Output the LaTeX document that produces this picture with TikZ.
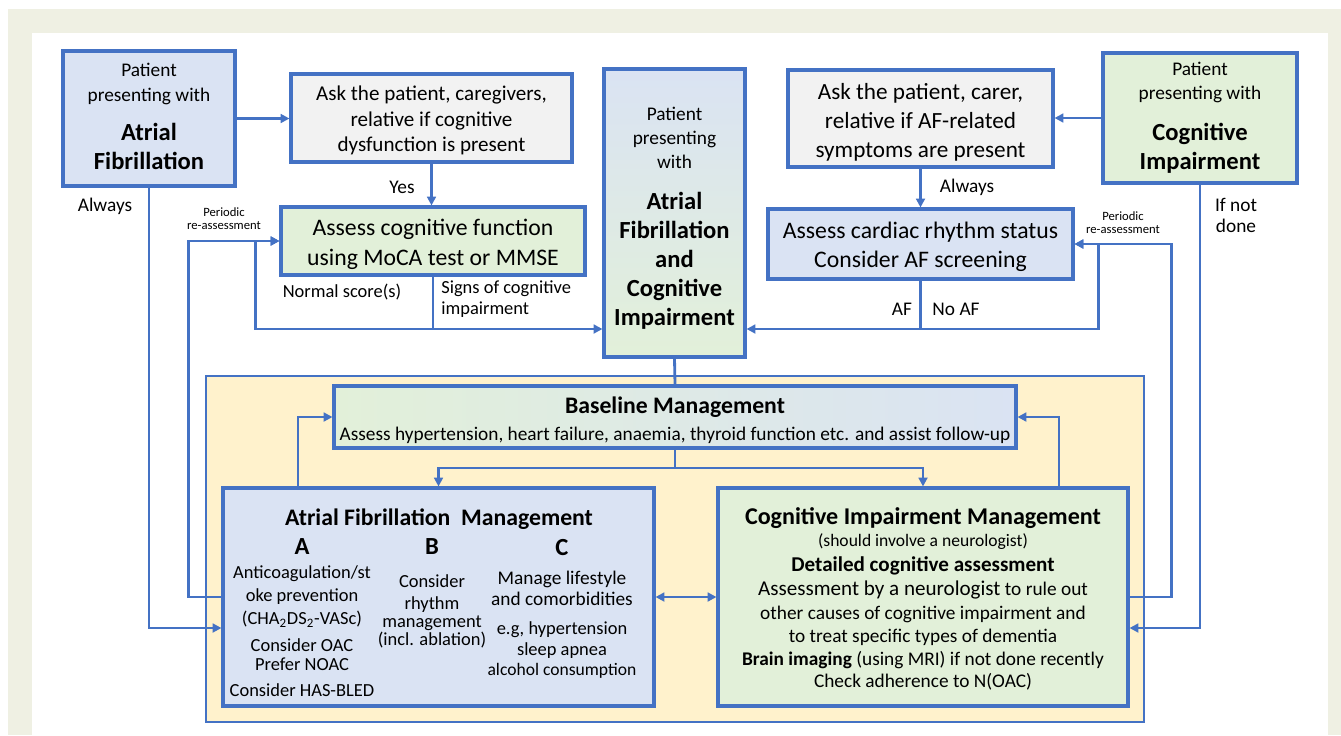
\documentclass[tikz,border=0pt]{standalone}
\usepackage{fontspec}
\setmainfont{Carlito}
\usepackage{xcolor}
\usepackage{tikz}
\usetikzlibrary{arrows.meta,positioning}

\definecolor{flowblue}{HTML}{4472C4}
\definecolor{afpale}{HTML}{DAE3F3}
\definecolor{cipale}{HTML}{E2F0D9}
\definecolor{askgray}{HTML}{F2F2F2}
\definecolor{mgmtyellow}{HTML}{FFF2CC}
\definecolor{pagebeige}{HTML}{EFF0E3}
\newcommand{\headfont}{\fontsize{14}{16.5}\selectfont\bfseries}

\begin{document}
\begin{tikzpicture}[x=0.02cm, y=-0.02cm, >={Triangle[length=5pt,width=5pt]},
    box/.style={rectangle, draw=flowblue, line width=1.8pt, align=center, inner sep=2pt},
    afbox/.style={box, fill=afpale},
    cibox/.style={box, fill=cipale},
    askbox/.style={box, fill=askgray},
    flow/.style={->, draw=flowblue, line width=1.6pt},
    link/.style={draw=flowblue, line width=1.6pt},
    lbl/.style={font=\fontsize{10.5}{12}\selectfont, inner sep=0pt},
    smalllbl/.style={font=\fontsize{7.2}{7.4}\selectfont, align=center, inner sep=0pt},
    coltext/.style={align=center, inner sep=0pt, anchor=north}]

    \fill[pagebeige] (8,9) rectangle (1341,735);
    \fill[white] (32,33) rectangle (1328,735);
    \useasboundingbox (0,0) rectangle (1341,735);
    \draw[flowblue, line width=0.6pt, fill=mgmtyellow] (206,376) rectangle (1144,722);

    \node[afbox, minimum width=3.44cm, minimum height=2.7cm, font=\fontsize{11}{13.7}\selectfont, text depth=2.5pt] (afpat) at (149,118.5)
        {Patient\\presenting with\\[8.5pt]{\headfont Atrial}\\[2.8pt]{\headfont Fibrillation}};
    \node[askbox, minimum width=5.62cm, minimum height=1.76cm, font=\fontsize{12}{14.5}\selectfont] (askcog) at (431.5,118)
        {\rule{0pt}{11.5pt}Ask the patient, caregivers,\\relative if cognitive\\dysfunction is present};
    \node[cibox, minimum width=6.08cm, minimum height=1.36cm, font=\fontsize{13.5}{17}\selectfont] (asscog) at (433,241)
        {\rule{0pt}{13pt}Assess cognitive function\\using MoCA test or MMSE};
    \node[box, top color=afpale, bottom color=cipale, minimum width=2.82cm, minimum height=5.76cm, font=\fontsize{11}{13.7}\selectfont] (center) at (674.5,213)
        {\rule{0pt}{13.5pt}Patient\\presenting\\with\\[10pt]{\headfont Atrial}\\[2.8pt]{\headfont Fibrillation}\\[2.8pt]{\headfont and}\\[2.8pt]{\headfont Cognitive}\\[2.8pt]{\headfont Impairment}};
    \node[askbox, minimum width=5.3cm, minimum height=1.94cm, font=\fontsize{13.2}{16.5}\selectfont] (askaf) at (920.5,118.5)
        {\rule{0pt}{13pt}Ask the patient, carer,\\relative if AF-related\\symptoms are present};
    \node[cibox, minimum width=3.88cm, minimum height=2.6cm, font=\fontsize{11}{13.7}\selectfont] (cipat) at (1200,118)
        {Patient\\presenting with\\[9.5pt]{\headfont Cognitive}\\[2.8pt]{\headfont Impairment}};
    \node[afbox, minimum width=6.1cm, minimum height=1.4cm, font=\fontsize{13.5}{17}\selectfont] (asscard) at (920.5,244)
        {\rule{0pt}{12.5pt}Assess cardiac rhythm status\\Consider AF screening};

    \node[box, left color=cipale, right color=afpale, minimum width=13.64cm, minimum height=1.24cm, font=\fontsize{11}{15.4}\selectfont] (baseline) at (675,417)
        {\rule{0pt}{13pt}{\fontsize{13.5}{15}\selectfont\bfseries Baseline Management}\\Assess hypertension, heart failure, anaemia, thyroid function etc. and assist follow-up};
    \node[afbox, minimum width=8.62cm, minimum height=4.36cm] (afmgmt) at (438.5,597) {};
    \node[font=\fontsize{13.5}{15}\selectfont\bfseries, inner sep=0pt] (afhead) at (439,519.5) {Atrial Fibrillation\ \ Management};
    \node[coltext, font=\fontsize{10.5}{12.7}\selectfont] (colA) at (302,538.5)
        {{\headfont A}\\[1pt]Anticoagulation/st\\oke prevention\\[0.5pt](CHA\textsubscript{2}DS\textsubscript{2}-VASc)\\[2.5pt]Consider OAC\\[-1.5pt]Prefer NOAC\\[2pt]Consider HAS-BLED};
    \node[coltext, font=\fontsize{10.5}{10.2}\selectfont] (colB) at (432,538.5)
        {{\headfont B}\\[8.5pt]Consider\\[2pt]rhythm\\management\\[0.5pt](incl. ablation)};
    \node[coltext, font=\fontsize{10.5}{11.5}\selectfont] (colC) at (562,538.5)
        {{\headfont C}\\[5.5pt]{\fontsize{11}{12}\selectfont Manage lifestyle}\\{\fontsize{11}{12}\selectfont and comorbidities}\\[5pt]e.g, hypertension\\[0.5pt]sleep apnea\\{\fontsize{10}{11}\selectfont alcohol consumption}};
    \node[cibox, minimum width=8.2cm, minimum height=4.36cm, font=\fontsize{11}{13}\selectfont] (cimgmt) at (923,597)
        {\rule{0pt}{12pt}{\fontsize{13.7}{16}\selectfont\bfseries Cognitive Impairment Management}\\[-0.5pt]
         {\fontsize{10}{12}\selectfont (should involve a neurologist)}\\[1pt]
         {\fontsize{12}{14}\selectfont\bfseries Detailed cognitive assessment}\\[1pt]
         {\fontsize{12}{14}\selectfont Assessment by a neurologist} to rule out\\[0.5pt]
         other causes of cognitive impairment and\\
         to treat specific types of dementia\\
         {\bfseries Brain imaging} (using MRI) if not done recently\\
         Check adherence to N(OAC)};

    \coordinate (cogsplit) at (433,329);
    \coordinate (cardsplit) at (920.5,329);
    \coordinate (basesplit) at (675,468);

    \draw[flow] (afpat.east) -- (afpat.east -| askcog.west);
    \draw[flow] (askcog.south) -- (askcog.south |- asscog.north);
    \draw[flow] (afpat.south) |- ([yshift=-0.62cm]afmgmt.west);
    \draw[flow] (afmgmt.west) -- ++(-33,0) |- (asscog.west);
    \draw[link] (asscog.south) -- (cogsplit);
    \draw[flow] (cogsplit) -- (cogsplit -| center.west);
    \draw[flow] (cogsplit) -| ([xshift=-0.48cm]asscog.west) -- (asscog.west);

    \draw[flow] (cipat.west) -- (cipat.west -| askaf.east);
    \draw[flow] (askaf.south) -- (asscard.north);
    \draw[flow] (cipat.south) |- ([yshift=-0.62cm]cimgmt.east);
    \draw[flow] (cimgmt.east) -- ++(42,0) |- (asscard.east);
    \draw[link] (asscard.south) -- (cardsplit);
    \draw[flow] (cardsplit) -- (cardsplit -| center.east);
    \draw[flow] (cardsplit) -| ([xshift=0.48cm]asscard.east) -- (asscard.east);

    \draw[link] (center.south) -- (baseline.north);
    \draw[link] (baseline.south) -- (basesplit);
    \draw[flow] (basesplit) -| (afmgmt.north);
    \draw[flow] (basesplit) -| (cimgmt.north);
    \draw[flow] ([xshift=-2.81cm]afmgmt.north) |- (baseline.west);
    \draw[flow] ([xshift=2.72cm]cimgmt.north) |- (baseline.east);
    \draw[flow, <->] (afmgmt.east) -- (cimgmt.west);

    \node[lbl, font=\fontsize{11}{12}\selectfont] (alwaysaf) at (105,206) {Always};
    \node[lbl, font=\fontsize{11}{12}\selectfont] (yes) at (402,187) {Yes};
    \node[smalllbl] (periodicaf) at (224,219) {Periodic\\re-assessment};
    \node[lbl] (normal) at (342,292) {Normal score(s)};
    \node[lbl, align=left, anchor=west, font=\fontsize{10.5}{12}\selectfont] (signs) at (441,299) {Signs of cognitive\\impairment};
    \node[lbl, font=\fontsize{11}{12}\selectfont] (alwaysci) at (967,187) {Always};
    \node[smalllbl] (periodicci) at (1123,223) {Periodic\\re-assessment};
    \node[lbl, font=\fontsize{11}{12}\selectfont] (aflbl) at (902,309) {AF};
    \node[lbl, font=\fontsize{11}{12}\selectfont] (noaf) at (956,309) {No AF};
    \node[lbl, align=center, font=\fontsize{11}{12}\selectfont] (notdone) at (1236,215) {If not\\done};
\end{tikzpicture}
\end{document}
